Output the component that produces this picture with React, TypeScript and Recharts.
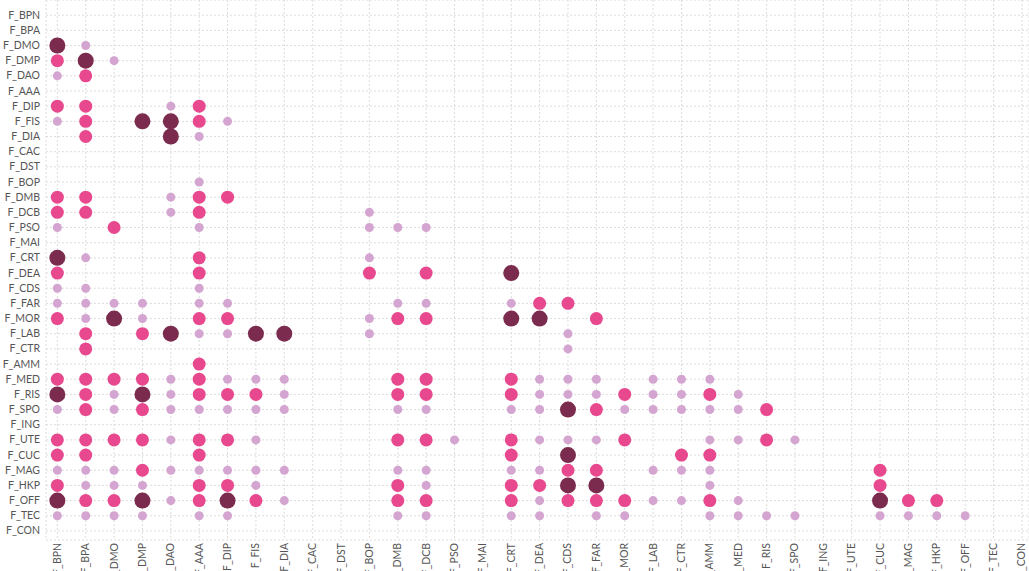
import { ScatterChart, Scatter, XAxis, YAxis, CartesianGrid } from "recharts";

const features = [
    "F_BPN", "F_BPA", "F_DMO", "F_DMP", "F_DAO", "F_AAA", "F_DIP", "F_FIS", "F_DIA",
    "F_CAC", "F_DST", "F_BOP", "F_DMB", "F_DCB", "F_PSO", "F_MAI", "F_CRT", "F_DEA",
    "F_CDS", "F_FAR", "F_MOR", "F_LAB", "F_CTR", "F_AMM", "F_MED", "F_RIS", "F_SPO",
    "F_ING", "F_UTE", "F_CUC", "F_MAG", "F_HKP", "F_OFF", "F_TEC", "F_CON",
];

// [row, column] pairs, short names without the "F_" prefix
const weakPairs: [string, string][] = [
    ["DMO", "BPA"], ["DMP", "DMO"], ["DAO", "BPN"], ["DIP", "DAO"],
    ["FIS", "BPN"], ["FIS", "DIP"], ["DIA", "AAA"], ["BOP", "AAA"], ["DMB", "DAO"],
    ["DCB", "DAO"], ["DCB", "BOP"],
    ["PSO", "BPN"], ["PSO", "AAA"], ["PSO", "BOP"], ["PSO", "DMB"], ["PSO", "DCB"],
    ["CRT", "BPA"], ["CRT", "BOP"],
    ["CDS", "BPN"], ["CDS", "BPA"], ["CDS", "AAA"],
    ["FAR", "BPN"], ["FAR", "BPA"], ["FAR", "DMO"], ["FAR", "DMP"], ["FAR", "AAA"],
    ["FAR", "DIP"], ["FAR", "DMB"], ["FAR", "DCB"], ["FAR", "CRT"],
    ["MOR", "BPA"], ["MOR", "DMP"], ["MOR", "BOP"],
    ["LAB", "AAA"], ["LAB", "DIP"], ["LAB", "BOP"], ["LAB", "CDS"],
    ["CTR", "CDS"],
    ["MED", "DAO"], ["MED", "DIP"], ["MED", "FIS"], ["MED", "DIA"], ["MED", "DEA"],
    ["MED", "CDS"], ["MED", "FAR"], ["MED", "LAB"], ["MED", "CTR"], ["MED", "AMM"],
    ["RIS", "DMO"], ["RIS", "DAO"], ["RIS", "DIA"], ["RIS", "DEA"], ["RIS", "CDS"],
    ["RIS", "FAR"], ["RIS", "LAB"], ["RIS", "CTR"], ["RIS", "MED"],
    ["SPO", "BPN"], ["SPO", "DMO"], ["SPO", "DAO"], ["SPO", "AAA"], ["SPO", "DIP"],
    ["SPO", "FIS"], ["SPO", "DIA"], ["SPO", "DMB"], ["SPO", "DCB"], ["SPO", "CRT"],
    ["SPO", "DEA"], ["SPO", "MOR"], ["SPO", "LAB"], ["SPO", "CTR"], ["SPO", "AMM"],
    ["SPO", "MED"],
    ["UTE", "DAO"], ["UTE", "FIS"], ["UTE", "PSO"], ["UTE", "DEA"], ["UTE", "CDS"],
    ["UTE", "FAR"], ["UTE", "AMM"], ["UTE", "MED"], ["UTE", "SPO"],
    ["MAG", "BPN"], ["MAG", "BPA"], ["MAG", "DMO"], ["MAG", "DAO"], ["MAG", "AAA"],
    ["MAG", "DIP"], ["MAG", "FIS"], ["MAG", "DIA"], ["MAG", "DMB"], ["MAG", "DCB"],
    ["MAG", "CRT"], ["MAG", "DEA"], ["MAG", "LAB"], ["MAG", "CTR"], ["MAG", "AMM"],
    ["HKP", "BPA"], ["HKP", "DMO"], ["HKP", "DMP"], ["HKP", "FIS"], ["HKP", "DCB"],
    ["HKP", "AMM"],
    ["OFF", "DAO"], ["OFF", "DIA"], ["OFF", "DEA"], ["OFF", "LAB"], ["OFF", "CTR"],
    ["OFF", "MED"],
    ["TEC", "BPN"], ["TEC", "BPA"], ["TEC", "DMO"], ["TEC", "DMP"], ["TEC", "AAA"],
    ["TEC", "DIP"], ["TEC", "DMB"], ["TEC", "DCB"], ["TEC", "CRT"], ["TEC", "DEA"],
    ["TEC", "FAR"], ["TEC", "MOR"], ["TEC", "AMM"], ["TEC", "MED"], ["TEC", "RIS"],
    ["TEC", "SPO"], ["TEC", "CUC"], ["TEC", "MAG"], ["TEC", "HKP"], ["TEC", "OFF"],
];

const mediumPairs: [string, string][] = [
    ["DMP", "BPN"], ["DAO", "BPA"],
    ["DIP", "BPN"], ["DIP", "BPA"], ["DIP", "AAA"],
    ["FIS", "BPA"], ["FIS", "AAA"], ["DIA", "BPA"],
    ["DMB", "BPN"], ["DMB", "BPA"], ["DMB", "AAA"], ["DMB", "DIP"],
    ["DCB", "BPN"], ["DCB", "BPA"], ["DCB", "AAA"],
    ["PSO", "DMO"], ["CRT", "AAA"],
    ["DEA", "BPN"], ["DEA", "AAA"], ["DEA", "BOP"], ["DEA", "DCB"],
    ["FAR", "DEA"], ["FAR", "CDS"],
    ["MOR", "BPN"], ["MOR", "AAA"], ["MOR", "DIP"], ["MOR", "DMB"], ["MOR", "DCB"],
    ["MOR", "FAR"],
    ["LAB", "BPA"], ["LAB", "DMP"], ["CTR", "BPA"], ["AMM", "AAA"],
    ["MED", "BPN"], ["MED", "BPA"], ["MED", "DMO"], ["MED", "DMP"], ["MED", "AAA"],
    ["MED", "DMB"], ["MED", "DCB"], ["MED", "CRT"],
    ["RIS", "BPA"], ["RIS", "AAA"], ["RIS", "DIP"], ["RIS", "FIS"], ["RIS", "DMB"],
    ["RIS", "DCB"], ["RIS", "CRT"], ["RIS", "MOR"], ["RIS", "AMM"],
    ["SPO", "BPA"], ["SPO", "DMP"], ["SPO", "FAR"], ["SPO", "RIS"],
    ["UTE", "BPN"], ["UTE", "BPA"], ["UTE", "DMO"], ["UTE", "DMP"], ["UTE", "AAA"],
    ["UTE", "DIP"], ["UTE", "DMB"], ["UTE", "DCB"], ["UTE", "CRT"], ["UTE", "MOR"],
    ["UTE", "RIS"],
    ["CUC", "BPN"], ["CUC", "BPA"], ["CUC", "AAA"], ["CUC", "CRT"], ["CUC", "CTR"],
    ["CUC", "AMM"],
    ["MAG", "DMP"], ["MAG", "CDS"], ["MAG", "FAR"], ["MAG", "CUC"],
    ["HKP", "BPN"], ["HKP", "AAA"], ["HKP", "DIP"], ["HKP", "DMB"], ["HKP", "CRT"],
    ["HKP", "DEA"], ["HKP", "CUC"],
    ["OFF", "BPA"], ["OFF", "DMO"], ["OFF", "AAA"], ["OFF", "FIS"], ["OFF", "DMB"],
    ["OFF", "DCB"], ["OFF", "CRT"], ["OFF", "CDS"], ["OFF", "FAR"], ["OFF", "MOR"],
    ["OFF", "AMM"], ["OFF", "MAG"], ["OFF", "HKP"],
];

const strongPairs: [string, string][] = [
    ["DMO", "BPN"], ["DMP", "BPA"], ["FIS", "DMP"], ["FIS", "DAO"], ["DIA", "DAO"],
    ["CRT", "BPN"], ["DEA", "CRT"],
    ["MOR", "DMO"], ["MOR", "CRT"], ["MOR", "DEA"],
    ["LAB", "DAO"], ["LAB", "FIS"], ["LAB", "DIA"],
    ["RIS", "BPN"], ["RIS", "DMP"],
    ["SPO", "CDS"], ["CUC", "CDS"], ["HKP", "CDS"], ["HKP", "FAR"],
    ["OFF", "BPN"], ["OFF", "DMP"], ["OFF", "DIP"], ["OFF", "CUC"],
];

const toPoints = (pairs: [string, string][]) =>
    pairs.map(([row, col]) => ({
        x: features.indexOf("F_" + col),
        y: features.indexOf("F_" + row),
    }));

const ticks = features.map((_, i) => i);

const dot = (r: number, color: string) => (props: any) =>
    <circle cx={props.cx} cy={props.cy} r={r} fill={color} />;

const YTick = ({ y, payload }: any) => (
    <text x={40} y={y} dy={3.5} textAnchor="end" fontSize={10.5} fill="#555">
        {features[payload.value]}
    </text>
);

const XTick = ({ x, payload }: any) => (
    <text
        x={x}
        y={543}
        dy={3.5}
        textAnchor="end"
        fontSize={10.5}
        fill="#555"
        transform={`rotate(-90, ${x}, 543)`}
    >
        {features[payload.value]}
    </text>
);

export default function App() {
    return (
        <div style={{ position: "absolute", left: 0, top: 0, fontFamily: "Lato, sans-serif" }}>
            <ScatterChart width={1029} height={571} margin={{ top: 0, right: 0, bottom: 0, left: 0 }}>
                <CartesianGrid stroke="#dcdcdc" strokeDasharray="2 2" />
                <XAxis
                    type="number"
                    dataKey="x"
                    domain={[-0.4, 34.25]}
                    ticks={ticks}
                    interval={0}
                    allowDataOverflow
                    height={31}
                    axisLine={false}
                    tickLine={false}
                    tick={<XTick />}
                />
                <YAxis
                    type="number"
                    dataKey="y"
                    domain={[-1, 34.6]}
                    ticks={ticks}
                    interval={0}
                    reversed
                    allowDataOverflow
                    width={46}
                    axisLine={false}
                    tickLine={false}
                    tick={<YTick />}
                />
                <Scatter data={toPoints(weakPairs)} shape={dot(4.5, "#d4a5d0")} isAnimationActive={false} />
                <Scatter data={toPoints(mediumPairs)} shape={dot(6.5, "#e8488e")} isAnimationActive={false} />
                <Scatter data={toPoints(strongPairs)} shape={dot(8, "#7b2b4d")} isAnimationActive={false} />
            </ScatterChart>
        </div>
    );
}
